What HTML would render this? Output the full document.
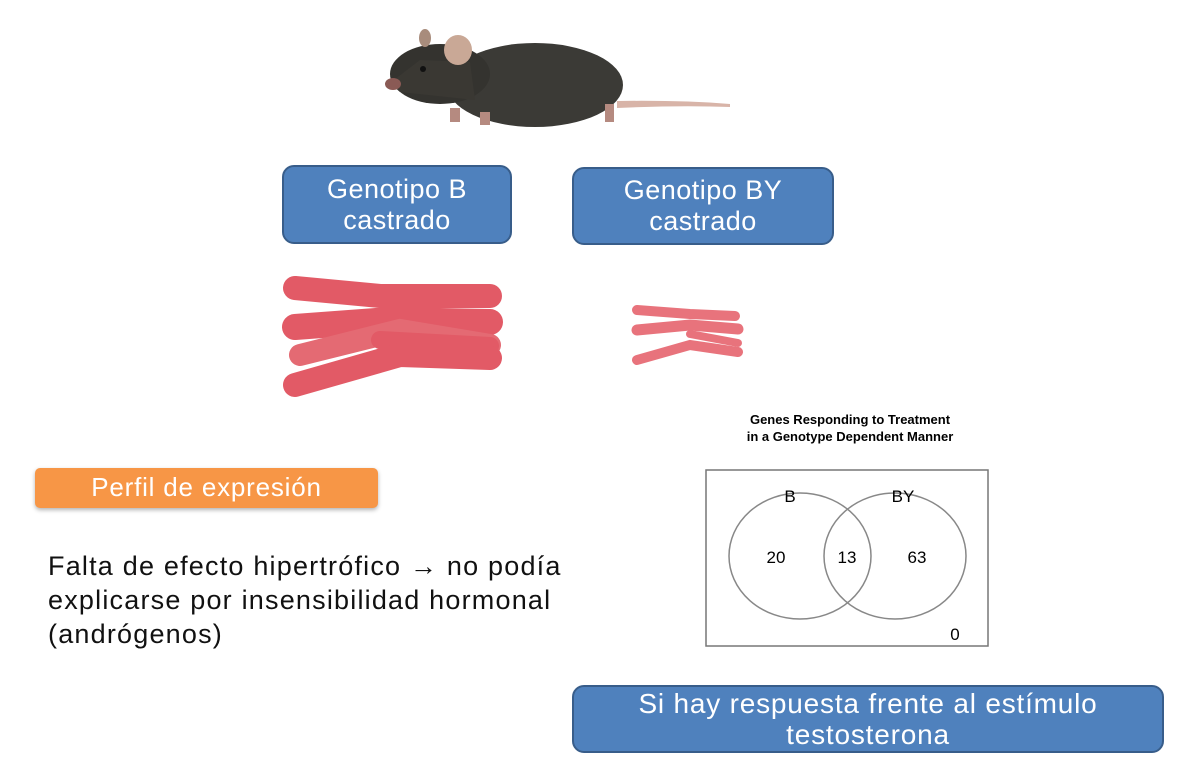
<!DOCTYPE html>
<html><head><meta charset="utf-8"><style>
body{margin:0;width:1193px;height:769px;background:#fff;position:relative;overflow:hidden;font-family:"Liberation Sans",sans-serif}
.box{position:absolute;background:#4F81BD;border:2px solid #385D8A;border-radius:12px;color:#fff;text-align:center;font-size:27px;line-height:31px;letter-spacing:0.5px;box-sizing:border-box;display:flex;align-items:center;justify-content:center}
.txt{position:absolute;left:48px;font-size:27px;letter-spacing:1.2px;color:#111;line-height:34px;white-space:nowrap}
</style></head><body>
<svg width="1193" height="769" style="position:absolute;left:0;top:0">
 <g>
  <path d="M617,101 Q680,100 730,104 L730,107 Q680,105 617,108Z" fill="#d8b4a8"/>
  <ellipse cx="535" cy="85" rx="88" ry="42" fill="#3b3a36"/>
  <ellipse cx="440" cy="74" rx="50" ry="30" fill="#34332f"/>
  <path d="M390,83 L420,60 L470,62 L475,100 L400,92Z" fill="#3a3833"/>
  <ellipse cx="458" cy="50" rx="14" ry="15" fill="#c9a896"/>
  <ellipse cx="425" cy="38" rx="6" ry="9" fill="#a88c7c"/>
  <circle cx="423" cy="69" r="3" fill="#111"/>
  <ellipse cx="393" cy="84" rx="8" ry="6" fill="#8a5a55"/>
  <rect x="450" y="108" width="10" height="14" fill="#b58a80"/>
  <rect x="480" y="112" width="10" height="13" fill="#b58a80"/>
  <rect x="605" y="104" width="9" height="18" fill="#b58a80"/>
 </g>
 <g stroke-linecap="round" fill="none">
  <path d="M295,288 L380,296 L490,296" stroke="#e25a66" stroke-width="24"/>
  <path d="M295,327 L390,320 L490,322" stroke="#e25a66" stroke-width="26"/>
  <path d="M300,355 L400,330 L490,345" stroke="#e46a73" stroke-width="22"/>
  <path d="M380,340 L490,346" stroke="#e25a66" stroke-width="18"/>
  <path d="M295,385 L400,355 L490,358" stroke="#e25a66" stroke-width="24"/>
 </g>
 <g stroke-linecap="round" fill="none">
  <path d="M637,310 L690,314 L735,316" stroke="#e8737c" stroke-width="10"/>
  <path d="M637,330 L690,325 L738,329" stroke="#e8737c" stroke-width="11"/>
  <path d="M690,334 L738,343" stroke="#e8737c" stroke-width="8"/>
  <path d="M637,360 L690,345 L738,352" stroke="#e8737c" stroke-width="10"/>
 </g>
</svg>
<div class="box" style="left:282px;top:165px;width:230px;height:79px">Genotipo B<br>castrado</div>
<div class="box" style="left:572px;top:167px;width:262px;height:78px">Genotipo BY<br>castrado</div>
<div style="position:absolute;left:35px;top:468px;width:343px;height:40px;background:#F79646;border-radius:5px;color:#fff;font-size:26px;letter-spacing:0.8px;line-height:38px;text-align:center;box-shadow:0 2px 4px rgba(0,0,0,0.3)">Perfil de expresión</div>
<div class="txt" style="top:549px">Falta de efecto hipertrófico <b>→</b> no podía<br>explicarse por insensibilidad hormonal<br>(andrógenos)</div>
<div class="box" style="left:572px;top:685px;width:592px;height:68px;font-size:28px;letter-spacing:0.8px">Si hay respuesta frente al estímulo<br>testosterona</div>
<svg width="1193" height="769" style="position:absolute;left:0;top:0">
 <text x="850" y="424" text-anchor="middle" font-size="13" font-weight="bold" font-family="Liberation Sans">Genes Responding to Treatment</text>
 <text x="850" y="441" text-anchor="middle" font-size="13" font-weight="bold" font-family="Liberation Sans">in a Genotype Dependent Manner</text>
 <rect x="706" y="470" width="282" height="176" fill="none" stroke="#777" stroke-width="1.5"/>
 <g id="venn"></g>
</svg>
<script>
const setNames=["B","BY"];
const counts=[20,13,63];
const outsideCount=[0];
const g=document.getElementById('venn');
const ns='http://www.w3.org/2000/svg';
const cxs=[800,895];
cxs.forEach((cx,i)=>{
 const e=document.createElementNS(ns,'ellipse');
 e.setAttribute('cx',cx);e.setAttribute('cy',556);e.setAttribute('rx',71);e.setAttribute('ry',63);
 e.setAttribute('fill','none');e.setAttribute('stroke','#888');e.setAttribute('stroke-width','1.5');
 
 
 g.appendChild(e);
 const t=document.createElementNS(ns,'text');
 t.setAttribute('x',[790,903][i]);t.setAttribute('y',502);t.setAttribute('text-anchor','middle');
 t.setAttribute('font-size','17');t.setAttribute('font-family','Liberation Sans');
 t.textContent=setNames[i];
 
 
 g.appendChild(t);
});
const cx2=[776,847,917];
counts.forEach((c,i)=>{
 const t=document.createElementNS(ns,'text');
 t.setAttribute('x',cx2[i]);t.setAttribute('y',563);t.setAttribute('text-anchor','middle');
 t.setAttribute('font-size','17');t.setAttribute('font-family','Liberation Sans');
 t.textContent=c;
 
 
 g.appendChild(t);
});
const o=document.createElementNS(ns,'text');
o.setAttribute('x',955);o.setAttribute('y',640);o.setAttribute('text-anchor','middle');
o.setAttribute('font-size','17');o.setAttribute('font-family','Liberation Sans');
o.textContent=outsideCount[0];


g.appendChild(o);
</script>
</body></html>
